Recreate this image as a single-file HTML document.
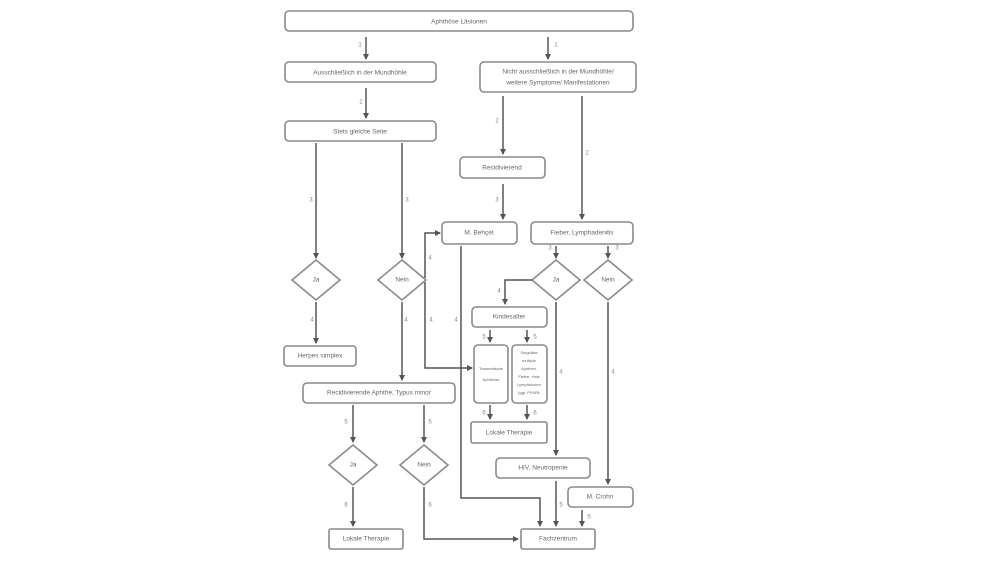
<!DOCTYPE html>
<html><head><meta charset="utf-8"><style>
html,body{margin:0;padding:0;background:#fff;}
svg{display:block;}
text{font-family:"Liberation Sans",sans-serif;fill:#666;font-size:6.5px;text-anchor:middle;dominant-baseline:middle;}
.b{fill:#fff;stroke:#8a8a8a;stroke-width:1.6;}
.l{fill:none;stroke:#555;stroke-width:1.5;}
.n{fill:#888;font-size:6px;}
</style></head><body>
<svg width="1000" height="563" viewBox="0 0 1000 563" xmlns="http://www.w3.org/2000/svg">
<defs><marker id="a" markerWidth="6" markerHeight="6" refX="5" refY="3" orient="auto" markerUnits="userSpaceOnUse"><path d="M0,0 L6,3 L0,6 z" fill="#555"/></marker></defs>
<!-- boxes -->
<rect class="b" x="285" y="11" width="348" height="20" rx="4"/><text x="459" y="22">Aphthöse Läsionen</text>
<rect class="b" x="285" y="62" width="151" height="20" rx="4"/><text x="360" y="73">Ausschließlich in der Mundhöhle</text>
<rect class="b" x="480" y="62" width="156" height="30" rx="4"/><text x="558" y="72">Nicht ausschließlich in der Mundhöhle/</text><text x="558" y="83">weitere Symptome/ Manifestationen</text>
<rect class="b" x="285" y="121" width="151" height="20" rx="4"/><text x="360" y="132">Stets gleiche Seite</text>
<rect class="b" x="460" y="157" width="85" height="21" rx="4"/><text x="502" y="168">Recidivierend</text>
<rect class="b" x="442" y="222" width="75" height="22" rx="4"/><text x="479" y="233">M. Behçet</text>
<rect class="b" x="531" y="222" width="102" height="22" rx="4"/><text x="582" y="233">Fieber, Lymphadenitis</text>
<rect class="b" x="284" y="346" width="72" height="20" rx="3"/><text x="320" y="356">Herpes simplex</text>
<rect class="b" x="472" y="307" width="75" height="20" rx="4"/><text x="509" y="317">Kindesalter</text>
<rect class="b" x="474" y="345" width="34" height="58" rx="4"/><text x="491" y="369" style="font-size:4px">Traumatische</text><text x="491" y="380" style="font-size:4px">Aphthose</text>
<rect class="b" x="512" y="345" width="35" height="58" rx="4"/>
<text x="529" y="353" style="font-size:4px">Singuläre</text><text x="529" y="361" style="font-size:4px">multiple</text><text x="529" y="369" style="font-size:4px">Aphthen,</text><text x="529" y="377" style="font-size:4px">Fieber, Hals</text><text x="529" y="385" style="font-size:4px">Lymphknoten</text><text x="529" y="393" style="font-size:4px">(ggf. PFAPA</text>
<rect class="b" x="303" y="383" width="152" height="20" rx="4"/><text x="379" y="393">Recidivierende Aphthe, Typus minor</text>
<rect class="b" x="471" y="422" width="76" height="21" rx="2"/><text x="509" y="433">Lokale Therapie</text>
<rect class="b" x="496" y="458" width="94" height="20" rx="4"/><text x="543" y="468">HIV, Neutropenie</text>
<rect class="b" x="568" y="487" width="65" height="20" rx="4"/><text x="600" y="497">M. Crohn</text>
<rect class="b" x="329" y="529" width="74" height="20" rx="2"/><text x="366" y="539">Lokale Therapie</text>
<rect class="b" x="521" y="529" width="74" height="20" rx="2"/><text x="558" y="539">Fachzentrum</text>
<!-- diamonds -->
<path class="b" d="M316,260 L340,280 L316,300 L292,280 Z"/><text x="316" y="280">Ja</text>
<path class="b" d="M402,260 L426,280 L402,300 L378,280 Z"/><text x="402" y="280">Nein</text>
<path class="b" d="M556,260 L580,280 L556,300 L532,280 Z"/><text x="556" y="280">Ja</text>
<path class="b" d="M608,260 L632,280 L608,300 L584,280 Z"/><text x="608" y="280">Nein</text>
<path class="b" d="M353,445 L377,465 L353,485 L329,465 Z"/><text x="353" y="465">Ja</text>
<path class="b" d="M424,445 L448,465 L424,485 L400,465 Z"/><text x="424" y="465">Nein</text>
<!-- connectors -->
<g marker-end="url(#a)">
<path class="l" d="M366,37 V59"/><path class="l" d="M548,37 V59"/>
<path class="l" d="M366,88 V118"/>
<path class="l" d="M316,143 V258"/><path class="l" d="M402,143 V258"/>
<path class="l" d="M503,96 V154"/><path class="l" d="M582,96 V219"/>
<path class="l" d="M503,184 V219"/>
<path class="l" d="M556,246 V258"/><path class="l" d="M608,246 V258"/>
<path class="l" d="M425,278 V233 H440"/>
<path class="l" d="M425,282 V368 H472"/>
<path class="l" d="M402,302 V380"/>
<path class="l" d="M316,302 V343"/>
<path class="l" d="M461,246 V498 H540 V526"/>
<path class="l" d="M532,280 H505 V304"/>
<path class="l" d="M490,330 V342"/><path class="l" d="M527,330 V342"/>
<path class="l" d="M490,405 V419"/><path class="l" d="M527,405 V419"/>
<path class="l" d="M556,302 V455"/>
<path class="l" d="M608,302 V484"/>
<path class="l" d="M353,405 V442"/><path class="l" d="M424,405 V442"/>
<path class="l" d="M353,487 V526"/>
<path class="l" d="M424,487 V539 H518"/>
<path class="l" d="M556,481 V526"/>
<path class="l" d="M582,510 V526"/>
</g>
<!-- numbers -->
<text class="n" x="360" y="45">1</text><text class="n" x="556" y="45">1</text>
<text class="n" x="361" y="102">2</text>
<text class="n" x="311" y="200">3</text><text class="n" x="407" y="200">3</text>
<text class="n" x="497" y="121">2</text><text class="n" x="587" y="153">2</text>
<text class="n" x="497" y="200">3</text>
<text class="n" x="550" y="248">3</text><text class="n" x="617" y="248">3</text>
<text class="n" x="430" y="258">4</text>
<text class="n" x="312" y="320">4</text><text class="n" x="406" y="320">4</text><text class="n" x="431" y="320">4</text><text class="n" x="456" y="320">4</text>
<text class="n" x="499" y="291">4</text>
<text class="n" x="484" y="337">5</text><text class="n" x="535" y="337">5</text>
<text class="n" x="484" y="413">6</text><text class="n" x="535" y="413">6</text>
<text class="n" x="561" y="372">4</text><text class="n" x="613" y="372">4</text>
<text class="n" x="346" y="422">5</text><text class="n" x="430" y="422">5</text>
<text class="n" x="346" y="505">6</text><text class="n" x="430" y="505">6</text>
<text class="n" x="561" y="505">5</text><text class="n" x="589" y="517">5</text>
</svg>
</body></html>
